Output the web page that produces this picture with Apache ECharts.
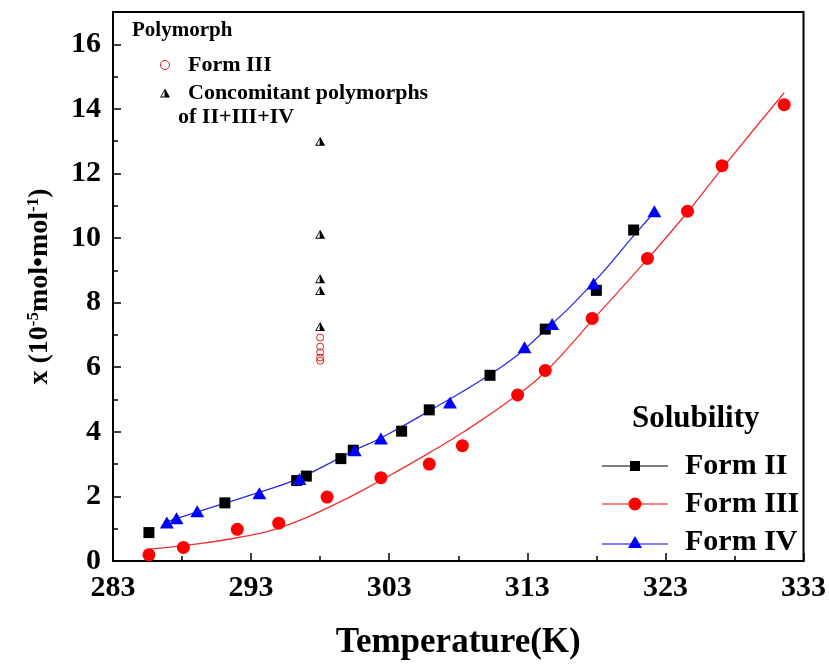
<!DOCTYPE html>
<html><head><meta charset="utf-8">
<script src="https://cdn.jsdelivr.net/npm/echarts@6/dist/echarts.min.js"></script>
<style>html,body{margin:0;padding:0;background:#fff}#c{width:829px;height:665px}</style>
</head><body><div id="c"></div>
<script>
// ---- data ----
const formIIT  = [285.6, 291.1, 296.3, 297.0, 299.5, 300.4, 303.9, 305.9, 310.3, 314.3, 318.0, 320.7];
const formIIX  = [0.88, 1.80, 2.49, 2.63, 3.17, 3.43, 4.02, 4.68, 5.75, 7.18, 8.38, 10.25];
const formIIIT = [285.6, 288.1, 292.0, 295.0, 298.5, 302.4, 305.9, 308.3, 312.3, 314.3, 317.7, 321.7, 324.6, 327.1, 331.6];
const formIIIX = [0.19, 0.42, 0.98, 1.17, 1.98, 2.58, 3.00, 3.57, 5.14, 5.90, 7.51, 9.37, 10.83, 12.24, 14.13];
const formIVT  = [286.9, 287.6, 289.1, 293.6, 296.5, 300.5, 302.4, 307.4, 312.8, 314.8, 317.8, 322.2];
const formIVX  = [1.19, 1.32, 1.54, 2.10, 2.54, 3.43, 3.79, 4.91, 6.62, 7.34, 8.59, 10.83];
const fitIIIT  = [285.6, 288.0, 292.0, 295.0, 298.8, 302.4, 305.9, 308.4, 312.3, 314.3, 317.7, 321.6, 324.6, 327.1, 331.6];
const fitIIIX  = [0.37, 0.47, 0.72, 1.02, 1.70, 2.50, 3.35, 4.00, 5.15, 5.85, 7.45, 9.30, 10.80, 12.15, 14.50];
const fitIVT   = [286.7, 289.1, 293.4, 296.4, 300.5, 302.4, 305.7, 311.2, 313.8, 317.7, 320.8, 322.2];
const fitIVX   = [1.19, 1.52, 2.10, 2.55, 3.43, 3.81, 4.60, 6.03, 6.95, 8.58, 10.12, 10.80];
const polyT    = [298.0, 298.0, 298.0, 298.0, 298.0];
const polyIIIX = [6.92, 6.64, 6.46, 6.30, 6.20];
const concomT  = [298.0, 298.0, 298.0, 298.0, 298.0];
const concomX  = [13.00, 10.12, 8.74, 8.38, 7.26];

const zip = (a, b) => a.map((v, i) => [v, b[i]]);
const FONT = "'Liberation Serif', 'Times New Roman', serif";
const halfTri = 'path://M5,0L10,9L0,9Z M4.5,2.3L1.5,8.1L4.5,8.1Z';
const lgII  = 'path://M0,4.5L28,4.5L28,0L38,0L38,4.5L66,4.5L66,5.5L38,5.5L38,10L28,10L28,5.5L0,5.5Z';
const lgIII = 'path://M0,6L66,6L66,7L0,7Z M33,0A6.5,6.5,0,1,1,32.99,0Z';
const lgIV  = 'path://M0,7.5L66,7.5L66,8.5L0,8.5Z M33,0L40,12L26,12Z';

const chart = echarts.init(document.getElementById('c'), null, {renderer: 'canvas'});
const option = {
  animation: false,
  backgroundColor: '#fff',
  title: [
    {text: 'Polymorph', left: 132, top: 20, padding: 0,
     textStyle: {fontFamily: FONT, fontWeight: 'bold', fontSize: 21, color: '#000'}},
    {text: 'of II+III+IV', left: 178, top: 106, padding: 0,
     textStyle: {fontFamily: FONT, fontWeight: 'bold', fontSize: 22, color: '#000'}},
    {text: 'Solubility', left: 632, top: 403, padding: 0,
     textStyle: {fontFamily: FONT, fontWeight: 'bold', fontSize: 31, color: '#000'}}
  ],
  legend: [
    {
      left: 155, top: 49, orient: 'vertical', itemWidth: 10, itemHeight: 9, itemGap: 6,
      selectedMode: false,
      textStyle: {fontFamily: FONT, fontWeight: 'bold', fontSize: 22, color: '#000', padding: [0, 0, 0, 13]},
      formatter: n => n === 'Polymorph Form III' ? 'Form III' : n,
      data: [
        {name: 'Polymorph Form III', icon: 'circle', itemStyle: {color: 'rgba(0,0,0,0)', borderColor: '#e21b1b', borderWidth: 1, opacity: 1}},
        {name: 'Concomitant polymorphs', icon: halfTri, itemStyle: {color: '#000', borderWidth: 0, opacity: 1}}
      ]
    },
    {
      left: 597, top: 446, orient: 'vertical', itemWidth: 66, itemHeight: 13, itemGap: 8,
      selectedMode: false,
      textStyle: {fontFamily: FONT, fontWeight: 'bold', fontSize: 30, color: '#000', padding: [0, 0, 0, 12]},
      data: [
        {name: 'Form II', icon: lgII, itemStyle: {opacity: 1}},
        {name: 'Form III', icon: lgIII, itemStyle: {opacity: 1}},
        {name: 'Form IV', icon: lgIV, itemStyle: {opacity: 1}}
      ]
    }
  ],
  grid: {left: 113, right: 19, top: 12, bottom: 98, show: true, borderColor: '#000', borderWidth: 2, backgroundColor: 'transparent'},
  xAxis: {
    type: 'value', min: 283, max: 333, interval: 10,
    name: 'Temperature(K)', nameLocation: 'middle', nameGap: 64,
    nameTextStyle: {fontFamily: FONT, fontWeight: 'bold', fontSize: 35, color: '#000'},
    axisLine: {lineStyle: {color: '#000', width: 2}},
    axisTick: {inside: true, length: 8, lineStyle: {color: '#000', width: 1.5}},
    minorTick: {show: true, splitNumber: 2, length: 5, lineStyle: {color: '#000', width: 1.5}},
    splitLine: {show: false},
    axisLabel: {margin: 12, fontFamily: FONT, fontWeight: 'bold', fontSize: 30, color: '#000'}
  },
  yAxis: {
    type: 'value', min: 0, max: 17, interval: 2,
    name: '{b|x (10}{s|-5}{b|mol•mol}{s|-1}{b|)}', nameLocation: 'middle', nameGap: 58,
    nameTextStyle: {
      rich: {
        b: {fontFamily: FONT, fontWeight: 'bold', fontSize: 28, color: '#000', lineHeight: 30},
        s: {fontFamily: FONT, fontWeight: 'bold', fontSize: 17, color: '#000', verticalAlign: 'top', lineHeight: 30}
      }
    },
    axisLine: {lineStyle: {color: '#000', width: 2}},
    axisTick: {inside: true, length: 8, lineStyle: {color: '#000', width: 1.5}},
    minorTick: {show: true, splitNumber: 2, length: 5, lineStyle: {color: '#000', width: 1.5}},
    splitLine: {show: false},
    axisLabel: {margin: 12, showMaxLabel: false, fontFamily: FONT, fontWeight: 'bold', fontSize: 30, color: '#000'}
  },
  series: [
    {name: 'fit III', type: 'line', smooth: true, showSymbol: false, z: 1, silent: true,
     lineStyle: {color: '#ee3030', width: 1.3}, data: zip(fitIIIT, fitIIIX)},
    {name: 'fit IV', type: 'line', smooth: true, showSymbol: false, z: 1, silent: true,
     lineStyle: {color: '#2a2ae6', width: 1.3}, data: zip(fitIVT, fitIVX)},
    {name: 'Form II', type: 'scatter', symbol: 'rect', symbolSize: 11, z: 3,
     itemStyle: {color: '#000', opacity: 1}, data: zip(formIIT, formIIX)},
    {name: 'Form III', type: 'scatter', symbol: 'circle', symbolSize: 13, z: 3,
     itemStyle: {color: '#ff0000', opacity: 1}, data: zip(formIIIT, formIIIX)},
    {name: 'Form IV', type: 'scatter', symbol: 'triangle', symbolSize: [14, 12], z: 4,
     itemStyle: {color: '#0000ff', opacity: 1}, data: zip(formIVT, formIVX)},
    {name: 'Polymorph Form III', type: 'scatter', symbol: 'circle', symbolSize: 7, z: 3,
     itemStyle: {color: 'rgba(0,0,0,0)', borderColor: '#e21b1b', borderWidth: 1, opacity: 1}, data: zip(polyT, polyIIIX)},
    {name: 'Concomitant polymorphs', type: 'scatter', symbol: halfTri, symbolSize: [10, 9], z: 3,
     itemStyle: {color: '#000', opacity: 1}, data: zip(concomT, concomX)}
  ]
};
chart.setOption(option);
</script></body></html>
